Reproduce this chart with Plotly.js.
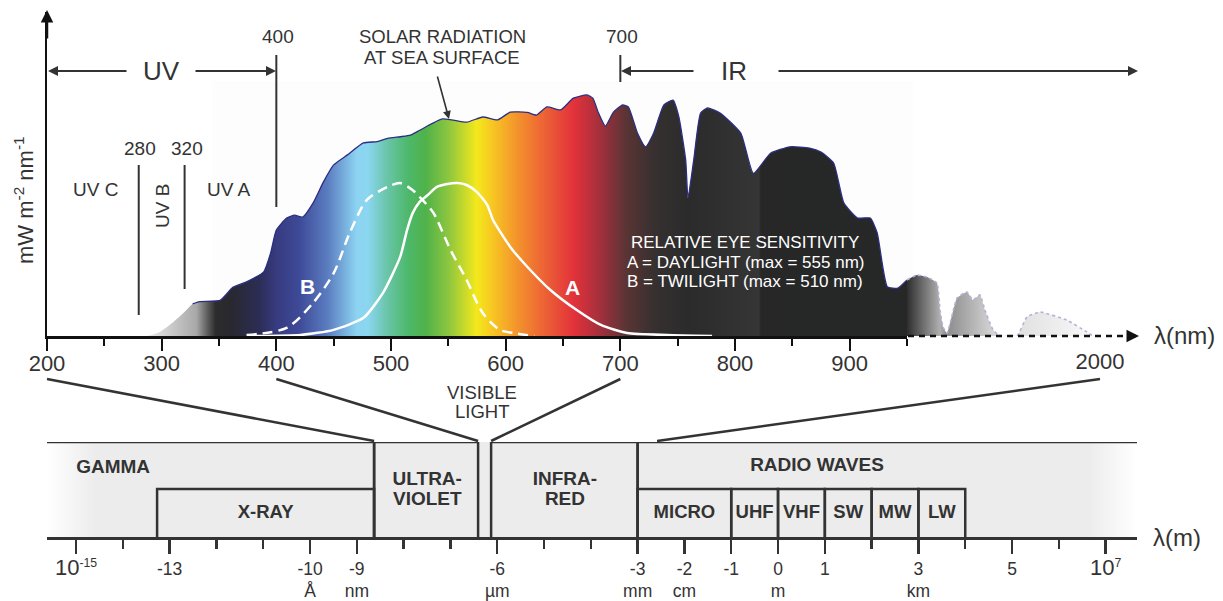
<!DOCTYPE html>
<html><head><meta charset="utf-8">
<script src="https://cdn.plot.ly/plotly-3.0.1.min.js"></script>
<style>html,body{margin:0;padding:0;background:#fff}#chart{width:1223px;height:601px}</style>
</head><body><div id="chart"></div>
<script>
// ---------- DATA ----------
// Solar radiation at sea surface (arbitrary units), wavelength in nm
const spectrumNm  = [287,297,307,319,327,333,351,362,374,389,395,400,409,416,423,432,441,450,462,476,488,497,508,517,525,545,566,580,593,604,619,627,636,648,659,671,676,681,687,694,702,707,715,722,729,738,746,751,757,759,764,770,776,787,805,816,831,848,865,875,886,895,907,918,924,933,942,950];
const spectrumVal = [0,1,3.4,7.1,9.9,10.6,11,15,16.7,19.8,25.6,32.7,36.4,37.3,36.7,41,47.5,52.8,55.9,59.6,60,61,61.5,62,63.5,67,66,67.6,66.7,69.1,69,68.2,70.7,69.8,73.4,74.4,73.4,68.8,64.8,69.1,71.3,70.7,62.6,58.4,62.6,71.3,72.8,67.7,54.3,42.6,54.3,68.8,70.4,68.8,62.6,50.2,56.4,58.4,58,56.8,53.4,41,36.4,36.4,31.8,15.1,14.8,17.3];
// Compressed infrared tail (950 - 2000 nm)
const tailNm  = [950,1004,1059,1113,1130,1146,1168,1222,1276,1309,1347,1374,1418,1456,1548,1603,1674,1820,1929,1962];
const tailVal = [17.3,18.8,18.2,16.4,8,2.8,0.9,11.7,13.6,11.1,12.7,8,1.9,0,0,5.9,7.4,4.9,1.2,0];
// Relative eye sensitivity (scaled to chart units)
const eyeANm  = [377,421,450,476,493,508,514,519,525,532,540,549,558,566,575,584,589,604,619,639,662,683,706,741,780];
const eyeAVal = [0,0.3,1.9,5.6,13.3,24.4,32.7,38,41.4,43.5,46,46.9,47.2,46.6,44.4,40.4,35.8,27.5,21.3,14.2,8,3.4,0.9,0.3,0];
const eyeBNm  = [374,409,432,450,464,479,497,508,519,525,537,552,566,580,595,607,625];
const eyeBVal = [0.3,2.5,10.2,19.4,31.8,42,46,47.2,45,42.9,38,26.5,17.3,7.1,1.9,0.9,0];
// Top axis ticks (nm)
const nmMajorTicks = [200,300,400,500,600,700,800,900];
const nmMinorTicks = [250,350,450,550,650,750,850,950];
const tailTickVals = [2000];
const tailTickText = ['2000'];
// Electromagnetic spectrum bands (wavelength in m)
const bandLabels = [['GAMMA'],['ULTRA-','VIOLET'],['INFRA-','RED'],['RADIO WAVES']];
const bandFrom   = [2.4e-16, 2.34e-9, 7.4e-7, 1e-3];
const bandTo     = [2.34e-9, 3.9e-7, 1e-3, 4.7e7];
const bandLabelX = [6.2e-15, 3.2e-8, 2.8e-5, 6.8];
const bandLabelY = [1.45, 0.99, 0.99, 1.49];
const subLabels = ['X-RAY','MICRO','UHF','VHF','SW','MW','LW'];
const subFrom   = [5.4e-14, 1e-3, 1e-1, 1, 10, 100, 1000];
const subTo     = [2.34e-9, 1e-1, 1, 10, 100, 1000, 1e4];
// Bottom axis ticks
const mTickVals = [1e-15,1e-13,1e-10,1e-9,1e-6,1e-3,1e-2,1e-1,1,10,1000,1e5,1e7];
const mTickText = ['<span style="font-size:22px">10</span><sup>-15</sup>','-13','-10<br>Å','-9<br>nm','-6<br>µm','-3<br>mm','-2<br>cm','-1','0<br>m','1','3<br>km','5','<span style="font-size:22px">10</span><sup>7</sup>'];
const mMinorTicks = [1e-14,1e-12,1e-11,1e-8,1e-7,1e-5,1e-4,100,1e4,1e6];
// Connectors: top-axis wavelength (nm) -> bottom band boundary (m)
const connectorNm = [200,400,700,2000];
const connectorM  = [2.34e-9,3.9e-7,7.4e-7,2.6e-3];

// ---------- LAYOUT HELPERS ----------
const W = 1223, H = 601;
const px = x => x / W;
const py = y => 1 - y / H;
const FONT = 'Liberation Sans, Arial, sans-serif';
const TXT = '#333';
const TOP = {d0:47, d1:907, r0:200, r1:950};
const TAIL = {d0:907, d1:1100, r0:950, r1:2000};
const BOT = {d0:47, d1:1137, r0:-15.62, r1:7.67};
const BOT_Y = {top:442, bottom:537, r1:2};
const nmToPx = nm => nm <= TOP.r1
  ? TOP.d0 + (nm - TOP.r0) / (TOP.r1 - TOP.r0) * (TOP.d1 - TOP.d0)
  : TAIL.d0 + (nm - TAIL.r0) / (TAIL.r1 - TAIL.r0) * (TAIL.d1 - TAIL.d0);
const mToPx = m => BOT.d0 + (Math.log10(m) - BOT.r0) / (BOT.r1 - BOT.r0) * (BOT.d1 - BOT.d0);
const lineStepY = 20 / (BOT_Y.bottom - BOT_Y.top) * BOT_Y.r1; // 20px line spacing in y3 units

// ---------- TRACES ----------
const spectrumFill = {
  x: spectrumNm, y: spectrumVal, xaxis:'x', yaxis:'y', type:'scatter', mode:'lines',
  fill:'tozeroy', line:{width:0, shape:'spline', smoothing:0.5}, hoverinfo:'skip',
  fillgradient:{type:'horizontal', start:280, stop:950, colorscale:[
    [0,'#f4f4f4'],[0.03,'#d6d6d6'],[0.075,'#a8a8a8'],[0.09,'#5a5a5a'],[0.1,'#2c2c2c'],
    [0.12,'#28282f'],[0.157,'#2c2d55'],[0.179,'#373b80'],[0.209,'#3e4a98'],[0.246,'#5b7dc0'],
    [0.284,'#8dd4f2'],[0.299,'#8ad6ef'],[0.321,'#6cc6ae'],[0.351,'#4db86a'],[0.373,'#4fb24a'],
    [0.403,'#8cc63f'],[0.440,'#f4e81c'],[0.463,'#f7c223'],[0.493,'#f3932c'],[0.522,'#ee6a34'],
    [0.567,'#e2313b'],[0.604,'#9c303c'],[0.634,'#5b3434'],[0.672,'#363030'],[0.716,'#2b2b2b'],
    [0.807,'#363536'],[0.81,'#272727'],[1,'#262828']]}
};
const outIdx = spectrumNm.map((v,i)=>i).filter(i => spectrumNm[i] >= 327);
const spectrumLine = {
  x: outIdx.map(i=>spectrumNm[i]), y: outIdx.map(i=>spectrumVal[i]), xaxis:'x', yaxis:'y',
  type:'scatter', mode:'lines', line:{color:'#2b2f82', width:1.3, shape:'spline', smoothing:0.5}, hoverinfo:'skip'
};
const tailFill = {
  x: tailNm, y: tailVal, xaxis:'x2', yaxis:'y', type:'scatter', mode:'lines',
  fill:'tozeroy', line:{color:'#b3b3d6', width:1.6, dash:'dot', shape:'spline', smoothing:0.4}, hoverinfo:'skip',
  fillgradient:{type:'horizontal', start:950, stop:2000, colorscale:[
    [0,'#2e2e2e'],[0.171,'#b0b0b0'],[0.19,'#9a9a9a'],[0.208,'#8c8c8c'],[0.404,'#c8c8c8'],
    [0.448,'#d5d5d5'],[0.57,'#e0e0e0'],[0.964,'#f9f9f9'],[1,'#fbfbfb']]}
};
const eyeA = {x:eyeANm, y:eyeAVal, xaxis:'x', yaxis:'y', type:'scatter', mode:'lines',
  line:{color:'#ffffff', width:2.5, shape:'spline', smoothing:0.6}, hoverinfo:'skip'};
const eyeB = {x:eyeBNm, y:eyeBVal, xaxis:'x', yaxis:'y', type:'scatter', mode:'lines',
  line:{color:'#ffffff', width:2.5, dash:'10px,6px', shape:'spline', smoothing:0.8}, hoverinfo:'skip'};

const emBg = {x:[bandFrom[0], bandTo[bandTo.length-1]], y:[2,2], xaxis:'x3', yaxis:'y3',
  type:'scatter', mode:'lines', fill:'tozeroy', line:{width:0}, hoverinfo:'skip',
  fillgradient:{type:'horizontal', colorscale:[[0,'#ffffff'],[0.045,'#ececec'],[0.955,'#ececec'],[1,'#ffffff']]}};
const boxX = [], boxY = [];
bandFrom.forEach((f,i)=>{ boxX.push(f, bandTo[i], null); boxY.push(2, 2, null); });
bandFrom.forEach((f,i)=>{
  if (i > 0) { boxX.push(f, f, null); boxY.push(0, 2, null); }
  if (i < bandFrom.length-1) { boxX.push(bandTo[i], bandTo[i], null); boxY.push(0, 2, null); }
});
subFrom.forEach((f,i)=>{ boxX.push(f, f, subTo[i], subTo[i], null); boxY.push(0, 1.01, 1.01, 0, null); });
const emBoxes = {x:boxX, y:boxY, xaxis:'x3', yaxis:'y3', type:'scatter', mode:'lines',
  line:{color:'#333', width:2.5}, hoverinfo:'skip', connectgaps:false};
// one text point per label line so the line spacing matches
const btX = [], btY = [], btT = [];
bandLabels.forEach((lines,i)=>{
  lines.forEach((ln,k)=>{
    btX.push(bandLabelX[i]);
    btY.push(bandLabelY[i] + ((lines.length-1)/2 - k) * lineStepY);
    btT.push('<b>'+ln+'</b>');
  });
});
const emBandText = {x:btX, y:btY, text:btT, xaxis:'x3', yaxis:'y3', type:'scatter', mode:'text',
  textfont:{family:FONT, size:19, color:TXT}, hoverinfo:'skip'};
const emSubText = {x:subFrom.map((f,i)=>Math.sqrt(f*subTo[i])), y:subFrom.map(()=>0.5),
  text:subLabels.map(t=>'<b>'+t+'</b>'), xaxis:'x3', yaxis:'y3', type:'scatter', mode:'text',
  textfont:{family:FONT, size:18.5, color:TXT}, hoverinfo:'skip'};

// ---------- ANNOTATIONS & SHAPES ----------
const ann = [];
function txt(x, y, text, size, extra) {
  ann.push(Object.assign({xref:'paper', yref:'paper', x:px(x), y:py(y), text:text, showarrow:false,
    xanchor:'center', yanchor:'middle', font:{family:FONT, size:size, color:TXT}}, extra||{}));
}
function arrow(hx, hy, ax, ay, color, width) {
  ann.push({xref:'paper', yref:'paper', x:px(hx), y:py(hy), ax:ax, ay:ay, text:'', showarrow:true,
    arrowhead:2, arrowsize:1, arrowwidth:width||2, arrowcolor:color||TXT, standoff:0, startstandoff:0});
}
const WHITE = s => ({font:{family:FONT, size:s, color:'#ffffff'}});
txt(24, 200, 'mW m<sup>-2</sup> nm<sup>-1</sup>', 22, {textangle:-90});
txt(161, 71, 'UV', 26);
txt(734, 71, 'IR', 26);
txt(278, 37, '400', 19);
txt(622, 37, '700', 19);
txt(140, 148, '280', 19);
txt(187, 148, '320', 19);
txt(95, 190, 'UV C', 19);
txt(163, 206, 'UV B', 19, {textangle:-90});
txt(229, 190, 'UV A', 19);
txt(442, 37, 'SOLAR RADIATION', 18.5);
txt(442, 57, 'AT SEA SURFACE', 18.5);
txt(307, 286, '<b>B</b>', 21, WHITE(21));
txt(572, 287, '<b>A</b>', 21, WHITE(21));
txt(745, 243, 'RELATIVE EYE SENSITIVITY', 17, WHITE(17));
txt(745, 262, 'A = DAYLIGHT (max = 555 nm)', 17, WHITE(17));
txt(745, 281, 'B = TWILIGHT (max = 510 nm)', 17, WHITE(17));
txt(1184, 336, 'λ(nm)', 24);
txt(1177, 537, 'λ(m)', 24);
txt(482, 392, 'VISIBLE', 18.5);
txt(482, 412, 'LIGHT', 18.5);
arrow(449, 119, -12, -44, TXT, 1.6);
arrow(48, 71, 80, 0, TXT, 2);
arrow(276, 71, -82, 0, TXT, 2);
arrow(621, 71, 74, 0, TXT, 2);
arrow(1138, 71, -361, 0, TXT, 2);
arrow(47, 10, 0, 30, '#111', 2.5);
arrow(1139, 336, -12, 0, '#111', 2.5);

const shapes = [];
// very faint backdrop panel behind the spectrum
shapes.push({type:'rect', xref:'paper', yref:'paper', x0:px(212), x1:px(913), y0:py(336), y1:py(81),
  fillcolor:'#fdfdfd', line:{width:0}, layer:'below'});
// UV / IR boundary markers on the nm axis
[[400,55,207],[280,165,315],[320,165,289],[700,55,82]].forEach(([nm,y0,y1])=>{
  shapes.push({type:'line', xref:'x', yref:'paper', x0:nm, x1:nm, y0:py(y0), y1:py(y1), line:{color:TXT, width:2}});
});
// dashed axis extension
shapes.push({type:'line', xref:'paper', yref:'paper', x0:px(908), x1:px(1128), y0:py(336), y1:py(336),
  line:{color:'#111', width:2.5, dash:'6px,5px'}});
// connectors
connectorNm.forEach((nm,i)=>{
  shapes.push({type:'line', xref:'paper', yref:'paper', x0:px(nmToPx(nm)), y0:py(379),
    x1:px(mToPx(connectorM[i])), y1:py(441), line:{color:TXT, width:2.5}});
});

const layout = {
  width:W, height:H, margin:{l:0,r:0,t:0,b:0}, paper_bgcolor:'#ffffff', plot_bgcolor:'rgba(0,0,0,0)',
  showlegend:false, font:{family:FONT, color:TXT},
  xaxis:{domain:[px(TOP.d0), px(TOP.d1)], range:[TOP.r0, TOP.r1], anchor:'y', showgrid:false, zeroline:false,
    showline:true, linecolor:'#111', linewidth:2.5, ticks:'outside', tickmode:'array', tickvals:nmMajorTicks,
    ticklen:12, tickwidth:2, tickcolor:'#111', tickfont:{family:FONT, size:22, color:TXT}, ticklabelstandoff:-6,
    minor:{tickmode:'array', tickvals:nmMinorTicks, ticks:'outside', ticklen:7, tickwidth:2, tickcolor:'#111', showgrid:false},
    fixedrange:true},
  xaxis2:{domain:[px(TAIL.d0), px(TAIL.d1)], range:[TAIL.r0, TAIL.r1], anchor:'y', showgrid:false, zeroline:false,
    showline:false, ticks:'outside', ticklen:12, tickcolor:'rgba(0,0,0,0)', tickmode:'array', tickvals:tailTickVals,
    ticktext:tailTickText, tickfont:{family:FONT, size:22, color:TXT}, ticklabelstandoff:-6, fixedrange:true},
  yaxis:{domain:[py(336), py(12)], range:[0,100], anchor:'x', showgrid:false, zeroline:false, showline:true,
    linecolor:'#111', linewidth:2.5, ticks:'', showticklabels:false, fixedrange:true},
  xaxis3:{type:'log', domain:[px(BOT.d0), px(BOT.d1)], range:[BOT.r0, BOT.r1], anchor:'y3', showgrid:false,
    zeroline:false, showline:true, linecolor:'#333', linewidth:2.5, ticks:'outside', tickmode:'array',
    tickvals:mTickVals, ticktext:mTickText, ticklen:14, tickwidth:2.5, tickcolor:'#333',
    tickfont:{family:FONT, size:17.5, color:TXT},
    minor:{tickmode:'array', tickvals:mMinorTicks, ticks:'outside', ticklen:9, tickwidth:2.5, tickcolor:'#333', showgrid:false},
    fixedrange:true},
  yaxis3:{domain:[py(BOT_Y.bottom), py(BOT_Y.top)], range:[0,BOT_Y.r1], anchor:'x3', visible:false, fixedrange:true},
  annotations:ann, shapes:shapes
};

Plotly.newPlot('chart', [spectrumFill, spectrumLine, tailFill, eyeB, eyeA, emBg, emBoxes, emBandText, emSubText],
  layout, {staticPlot:true, displayModeBar:false});
</script></body></html>
